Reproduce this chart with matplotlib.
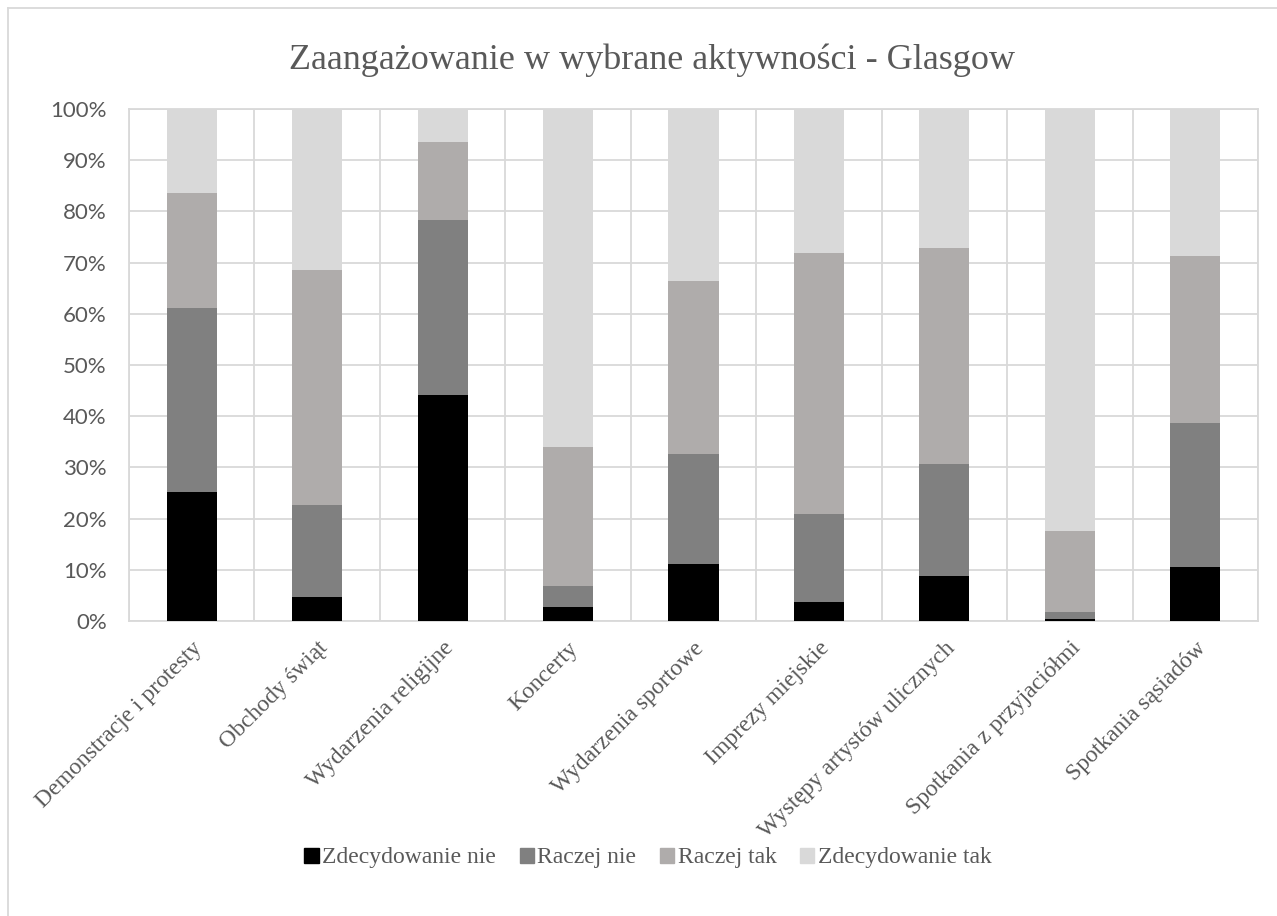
import matplotlib
matplotlib.use("Agg")
import matplotlib.pyplot as plt
import matplotlib.transforms as mtransforms
import numpy as np
from matplotlib.lines import Line2D

categories = ["Demonstracje i protesty", "Obchody świąt", "Wydarzenia religijne",
              "Koncerty", "Wydarzenia sportowe", "Imprezy miejskie",
              "Występy artystów ulicznych", "Spotkania z przyjaciółmi", "Spotkania sąsiadów"]
series_names = ["Zdecydowanie nie", "Raczej nie", "Raczej tak", "Zdecydowanie tak"]
zdecydowanie_nie = [25.2, 4.7, 44.1, 2.7, 11.1, 3.8, 8.7, 0.3, 10.5]
raczej_nie = [36.0, 17.9, 34.3, 4.2, 21.5, 17.1, 21.9, 1.5, 28.1]
raczej_tak = [22.4, 46.0, 15.1, 27.0, 33.8, 51.0, 42.2, 15.7, 32.7]
zdecydowanie_tak = [16.4, 31.4, 6.5, 66.1, 33.6, 28.1, 27.2, 82.5, 28.7]
colors = ["#000000", "#808080", "#AFACAB", "#D9D9D9"]

W, H = 1277, 916
fig = plt.figure(figsize=(W / 100, H / 100), dpi=100)
ax = fig.add_axes([129 / W, 1 - 621 / H, (1258 - 129) / W, (621 - 109) / H])

x = np.arange(len(categories))
data = [zdecydowanie_nie, raczej_nie, raczej_tak, zdecydowanie_tak]
bottom = np.zeros(len(categories))
for vals, name, c in zip(data, series_names, colors):
    v = np.array(vals)
    ax.bar(x, v, 0.4, bottom=bottom, color=c, label=name, zorder=3)
    bottom += v

ax.set_xlim(-0.5, len(categories) - 0.5)
ax.set_ylim(0, 100)
ax.set_yticks(np.arange(0, 101, 10))
ax.set_yticklabels([f"{v}%" for v in range(0, 101, 10)], fontfamily="Lato",
                   fontsize=16, color="#595959")
ax.set_xticks(x)
ax.set_xticklabels(categories, rotation=45, ha="right", va="top",
                   rotation_mode="anchor", fontfamily="Liberation Serif",
                   fontsize=17, color="#595959")
offset = mtransforms.ScaledTranslation(-5 / 100, -3 / 100, fig.dpi_scale_trans)
for lbl in ax.get_xticklabels():
    lbl.set_transform(lbl.get_transform() + offset)
ax.set_xticks(np.arange(-0.5, len(categories), 1), minor=True)
ax.tick_params(axis="both", which="both", length=0)
ax.tick_params(axis="y", pad=16)
ax.tick_params(axis="x", pad=12)
ax.grid(axis="y", color="#D9D9D9", linewidth=1.3, zorder=0)
ax.grid(axis="x", which="minor", color="#D9D9D9", linewidth=1.3, zorder=0)
ax.set_axisbelow(True)
for s in ax.spines.values():
    s.set_color("#D9D9D9")
    s.set_linewidth(1.3)

fig.text(652 / W, 1 - 60 / H, "Zaangażowanie w wybrane aktywności - Glasgow",
         ha="center", va="center", fontfamily="Liberation Serif", fontsize=26,
         color="#595959")

handles = [plt.Rectangle((0, 0), 1, 1, color=c) for c in colors]
fig.legend(handles, series_names, loc="center", bbox_to_anchor=(648 / W, 1 - 858 / H),
           ncol=4, frameon=False, prop={"family": "Liberation Serif", "size": 17},
           handlelength=0.6, handleheight=0.6, handletextpad=0.15, columnspacing=1.0,
           labelcolor="#595959")

fig.add_artist(Line2D([8 / W, 8 / W], [0, 1 - 8 / H], transform=fig.transFigure,
                      color="#D9D9D9", linewidth=1.3))
fig.add_artist(Line2D([8 / W, 1], [1 - 8 / H, 1 - 8 / H], transform=fig.transFigure,
                      color="#D9D9D9", linewidth=1.3))

fig.savefig("out.png", dpi=100)
